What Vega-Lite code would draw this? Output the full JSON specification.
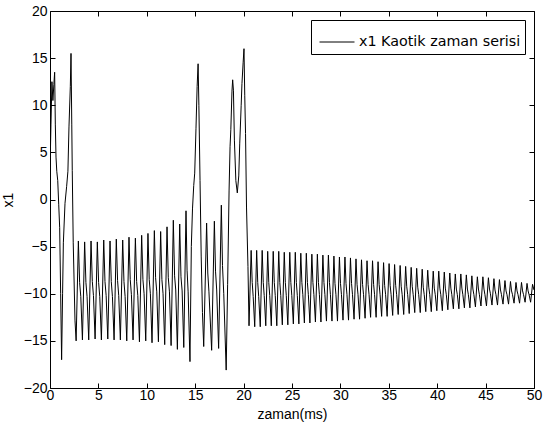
{
"$schema": "https://vega.github.io/schema/vega-lite/v6.json",
"width": 484, "height": 377,
"autosize": {"type": "none"},
"padding": {"left": 50, "top": 11, "right": 9, "bottom": 43},
"background": "white",
"config": {
 "view": {"stroke": "#000", "strokeWidth": 1},
 "font": "Liberation Sans",
 "axis": {"labelFont": "Liberation Sans", "labelFontSize": 14, "labelColor": "#000", "titleFont": "Liberation Sans", "titleFontSize": 14, "titleFontWeight": "normal", "titleColor": "#000", "domain": false, "grid": false, "tickColor": "#000", "tickSize": -5, "tickWidth": 1},
 "legend": {"orient": "none", "legendX": 261, "legendY": 9, "strokeColor": "#000", "fillColor": "white", "padding": 4, "symbolType": "stroke", "symbolSize": 1225, "symbolStrokeWidth": 1, "symbolOffset": 4, "labelOffset": 4, "labelFont": "DejaVu Sans", "labelFontSize": 14.3, "labelColor": "#000", "labelLimit": 400, "title": null}
},
"data": {"values": [
{"t":0,"x":3.0},{"t":0.1,"x":8},{"t":0.2,"x":12.5},{"t":0.3,"x":10.5},{"t":0.4,"x":12.2},{"t":0.48,"x":13.5},{"t":0.55,"x":8},{"t":0.62,"x":4.5},{"t":0.7,"x":3},{"t":0.8,"x":2},{"t":0.9,"x":-0.5},{"t":1.0,"x":-3},{"t":1.1,"x":-10},{"t":1.2,"x":-17.0},{"t":1.3,"x":-10},{"t":1.38,"x":-4.6},{"t":1.55,"x":-0.4},{"t":1.72,"x":1.4},{"t":1.85,"x":3},{"t":1.96,"x":7.7},{"t":2.1,"x":12},{"t":2.17,"x":15.5},{"t":2.25,"x":8},{"t":2.3,"x":3.1},{"t":2.4,"x":-4.6},{"t":2.58,"x":-12.8},{"t":2.7,"x":-15.0},
{"t":2.93,"x":-4.4},{"t":3.06,"x":-8.8},{"t":3.18,"x":-10.3},{"t":3.35,"x":-14.9},
{"t":3.58,"x":-4.5},{"t":3.71,"x":-8.8},{"t":3.83,"x":-10.3},{"t":4.00,"x":-14.9},
{"t":4.24,"x":-4.4},{"t":4.37,"x":-8.7},{"t":4.49,"x":-10.2},{"t":4.66,"x":-14.8},
{"t":4.89,"x":-4.5},{"t":5.02,"x":-8.8},{"t":5.14,"x":-10.3},{"t":5.31,"x":-14.9},
{"t":5.55,"x":-4.3},{"t":5.68,"x":-8.7},{"t":5.80,"x":-10.2},{"t":5.97,"x":-14.8},
{"t":6.20,"x":-4.4},{"t":6.33,"x":-8.7},{"t":6.45,"x":-10.3},{"t":6.62,"x":-14.9},
{"t":6.85,"x":-4.2},{"t":6.98,"x":-8.6},{"t":7.10,"x":-10.2},{"t":7.27,"x":-14.9},
{"t":7.51,"x":-4.3},{"t":7.64,"x":-8.7},{"t":7.76,"x":-10.3},{"t":7.93,"x":-15.0},
{"t":8.16,"x":-4.0},{"t":8.29,"x":-8.5},{"t":8.41,"x":-10.1},{"t":8.58,"x":-14.9},
{"t":8.82,"x":-4.1},{"t":8.95,"x":-8.7},{"t":9.07,"x":-10.2},{"t":9.24,"x":-15.1},
{"t":9.47,"x":-3.8},{"t":9.60,"x":-8.5},{"t":9.72,"x":-10.0},{"t":9.89,"x":-15.0},
{"t":10.12,"x":-3.6},{"t":10.25,"x":-8.5},{"t":10.37,"x":-10.0},{"t":10.54,"x":-15.2},
{"t":10.78,"x":-3.3},{"t":10.91,"x":-8.3},{"t":11.03,"x":-9.8},{"t":11.20,"x":-15.1},
{"t":11.43,"x":-3.4},{"t":11.56,"x":-8.5},{"t":11.68,"x":-10.0},{"t":11.85,"x":-15.4},
{"t":12.09,"x":-2.9},{"t":12.22,"x":-8.3},{"t":12.34,"x":-9.8},{"t":12.51,"x":-15.5},
{"t":12.74,"x":-2.2},{"t":12.87,"x":-8.1},{"t":12.99,"x":-9.6},{"t":13.16,"x":-15.9},
{"t":13.40,"x":-2.6},{"t":13.53,"x":-8.2},{"t":13.65,"x":-9.7},{"t":13.82,"x":-15.7},
{"t":14.05,"x":-1.2},{"t":14.16,"x":-7.5},{"t":14.27,"x":-9.8},{"t":14.46,"x":-17.2},
{"t":14.6,"x":-5.0},{"t":14.72,"x":-1.0},{"t":14.85,"x":1.5},{"t":14.95,"x":2.8},{"t":15.08,"x":7.5},{"t":15.2,"x":12},{"t":15.3,"x":14.4},{"t":15.38,"x":10},{"t":15.5,"x":2},{"t":15.62,"x":-6},{"t":15.75,"x":-12},{"t":15.88,"x":-15.6},
{"t":16.18,"x":-2.5},{"t":16.3,"x":-7.8},{"t":16.42,"x":-9.8},{"t":16.7,"x":-16.0},
{"t":16.98,"x":-2.3},{"t":17.1,"x":-7.6},{"t":17.22,"x":-9.6},{"t":17.42,"x":-15.8},
{"t":17.7,"x":-0.6},{"t":17.82,"x":-7},{"t":17.95,"x":-10},{"t":18.2,"x":-18.1},
{"t":18.35,"x":-9},{"t":18.5,"x":1},{"t":18.6,"x":5.6},{"t":18.68,"x":7.4},{"t":18.8,"x":11.5},{"t":18.87,"x":12.7},{"t":18.95,"x":11.6},{"t":19.05,"x":6.3},{"t":19.2,"x":2},{"t":19.35,"x":0.7},{"t":19.5,"x":2.5},{"t":19.6,"x":5.9},{"t":19.75,"x":10},{"t":19.83,"x":12.3},{"t":19.95,"x":14.5},{"t":20.04,"x":16.0},{"t":20.12,"x":11},{"t":20.2,"x":7.0},{"t":20.3,"x":-0.8},{"t":20.45,"x":-7.1},{"t":20.56,"x":-13.4},
{"t":20.78,"x":-5.4},{"t":20.89,"x":-8.8},{"t":20.99,"x":-10.3},{"t":21.15,"x":-13.5},
{"t":21.35,"x":-5.4},{"t":21.46,"x":-8.8},{"t":21.56,"x":-10.3},{"t":21.72,"x":-13.5},
{"t":21.92,"x":-5.4},{"t":22.03,"x":-8.8},{"t":22.13,"x":-10.2},{"t":22.29,"x":-13.4},
{"t":22.49,"x":-5.5},{"t":22.60,"x":-8.8},{"t":22.70,"x":-10.2},{"t":22.86,"x":-13.4},
{"t":23.06,"x":-5.5},{"t":23.17,"x":-8.8},{"t":23.27,"x":-10.2},{"t":23.43,"x":-13.4},
{"t":23.63,"x":-5.5},{"t":23.74,"x":-8.8},{"t":23.84,"x":-10.2},{"t":24.00,"x":-13.3},
{"t":24.20,"x":-5.6},{"t":24.31,"x":-8.8},{"t":24.41,"x":-10.2},{"t":24.57,"x":-13.3},
{"t":24.77,"x":-5.6},{"t":24.88,"x":-8.8},{"t":24.98,"x":-10.2},{"t":25.14,"x":-13.2},
{"t":25.34,"x":-5.6},{"t":25.45,"x":-8.8},{"t":25.55,"x":-10.2},{"t":25.71,"x":-13.2},
{"t":25.91,"x":-5.7},{"t":26.02,"x":-8.8},{"t":26.12,"x":-10.1},{"t":26.28,"x":-13.1},
{"t":26.48,"x":-5.7},{"t":26.59,"x":-8.8},{"t":26.69,"x":-10.1},{"t":26.85,"x":-13.1},
{"t":27.05,"x":-5.8},{"t":27.16,"x":-8.8},{"t":27.26,"x":-10.1},{"t":27.42,"x":-13.0},
{"t":27.62,"x":-5.8},{"t":27.73,"x":-8.8},{"t":27.83,"x":-10.1},{"t":27.99,"x":-13.0},
{"t":28.19,"x":-5.9},{"t":28.30,"x":-8.8},{"t":28.40,"x":-10.1},{"t":28.56,"x":-12.9},
{"t":28.76,"x":-5.9},{"t":28.87,"x":-8.8},{"t":28.97,"x":-10.1},{"t":29.13,"x":-12.9},
{"t":29.33,"x":-6.0},{"t":29.44,"x":-8.9},{"t":29.54,"x":-10.1},{"t":29.70,"x":-12.9},
{"t":29.90,"x":-6.1},{"t":30.01,"x":-8.9},{"t":30.11,"x":-10.1},{"t":30.27,"x":-12.8},
{"t":30.47,"x":-6.1},{"t":30.58,"x":-8.9},{"t":30.68,"x":-10.1},{"t":30.84,"x":-12.8},
{"t":31.04,"x":-6.2},{"t":31.15,"x":-8.9},{"t":31.25,"x":-10.1},{"t":31.41,"x":-12.7},
{"t":31.61,"x":-6.3},{"t":31.72,"x":-9.0},{"t":31.82,"x":-10.1},{"t":31.98,"x":-12.7},
{"t":32.18,"x":-6.4},{"t":32.29,"x":-9.0},{"t":32.39,"x":-10.1},{"t":32.55,"x":-12.6},
{"t":32.75,"x":-6.5},{"t":32.86,"x":-9.0},{"t":32.96,"x":-10.1},{"t":33.12,"x":-12.5},
{"t":33.32,"x":-6.5},{"t":33.43,"x":-9.0},{"t":33.53,"x":-10.1},{"t":33.69,"x":-12.5},
{"t":33.89,"x":-6.6},{"t":34.00,"x":-9.0},{"t":34.10,"x":-10.1},{"t":34.26,"x":-12.4},
{"t":34.46,"x":-6.7},{"t":34.57,"x":-9.1},{"t":34.67,"x":-10.1},{"t":34.83,"x":-12.4},
{"t":35.03,"x":-6.8},{"t":35.14,"x":-9.1},{"t":35.24,"x":-10.1},{"t":35.40,"x":-12.3},
{"t":35.60,"x":-6.9},{"t":35.71,"x":-9.1},{"t":35.81,"x":-10.1},{"t":35.97,"x":-12.2},
{"t":36.17,"x":-7.0},{"t":36.28,"x":-9.2},{"t":36.38,"x":-10.1},{"t":36.54,"x":-12.2},
{"t":36.74,"x":-7.1},{"t":36.85,"x":-9.2},{"t":36.95,"x":-10.1},{"t":37.11,"x":-12.1},
{"t":37.31,"x":-7.2},{"t":37.42,"x":-9.2},{"t":37.52,"x":-10.1},{"t":37.68,"x":-12.0},
{"t":37.88,"x":-7.3},{"t":37.99,"x":-9.3},{"t":38.09,"x":-10.1},{"t":38.25,"x":-12.0},
{"t":38.45,"x":-7.4},{"t":38.56,"x":-9.3},{"t":38.66,"x":-10.1},{"t":38.82,"x":-11.9},
{"t":39.02,"x":-7.5},{"t":39.13,"x":-9.3},{"t":39.23,"x":-10.1},{"t":39.39,"x":-11.9},
{"t":39.59,"x":-7.6},{"t":39.70,"x":-9.4},{"t":39.80,"x":-10.1},{"t":39.96,"x":-11.8},
{"t":40.16,"x":-7.6},{"t":40.27,"x":-9.4},{"t":40.37,"x":-10.1},{"t":40.53,"x":-11.8},
{"t":40.73,"x":-7.7},{"t":40.84,"x":-9.4},{"t":40.94,"x":-10.1},{"t":41.10,"x":-11.7},
{"t":41.30,"x":-7.8},{"t":41.41,"x":-9.4},{"t":41.51,"x":-10.1},{"t":41.67,"x":-11.6},
{"t":41.87,"x":-7.9},{"t":41.98,"x":-9.5},{"t":42.08,"x":-10.1},{"t":42.24,"x":-11.6},
{"t":42.44,"x":-7.9},{"t":42.55,"x":-9.4},{"t":42.65,"x":-10.1},{"t":42.81,"x":-11.5},
{"t":43.01,"x":-8.0},{"t":43.12,"x":-9.5},{"t":43.22,"x":-10.1},{"t":43.38,"x":-11.5},
{"t":43.58,"x":-8.1},{"t":43.69,"x":-9.5},{"t":43.79,"x":-10.1},{"t":43.95,"x":-11.4},
{"t":44.15,"x":-8.2},{"t":44.26,"x":-9.5},{"t":44.36,"x":-10.1},{"t":44.52,"x":-11.3},
{"t":44.72,"x":-8.2},{"t":44.83,"x":-9.5},{"t":44.93,"x":-10.1},{"t":45.09,"x":-11.3},
{"t":45.29,"x":-8.3},{"t":45.40,"x":-9.5},{"t":45.50,"x":-10.0},{"t":45.66,"x":-11.2},
{"t":45.86,"x":-8.4},{"t":45.97,"x":-9.6},{"t":46.07,"x":-10.1},{"t":46.23,"x":-11.2},
{"t":46.43,"x":-8.5},{"t":46.54,"x":-9.6},{"t":46.64,"x":-10.1},{"t":46.80,"x":-11.1},
{"t":47.00,"x":-8.6},{"t":47.11,"x":-9.7},{"t":47.21,"x":-10.1},{"t":47.37,"x":-11.1},
{"t":47.57,"x":-8.7},{"t":47.68,"x":-9.7},{"t":47.78,"x":-10.1},{"t":47.94,"x":-11.0},
{"t":48.14,"x":-8.8},{"t":48.25,"x":-9.7},{"t":48.35,"x":-10.1},{"t":48.51,"x":-11.0},
{"t":48.71,"x":-8.8},{"t":48.82,"x":-9.7},{"t":48.92,"x":-10.1},{"t":49.08,"x":-10.9},
{"t":49.28,"x":-8.9},{"t":49.39,"x":-9.7},{"t":49.49,"x":-10.1},{"t":49.65,"x":-10.9},
{"t":49.85,"x":-9.0},{"t":50.0,"x":-9.6}
]},
"layer": [
 {"mark": {"type": "line", "strokeWidth": 1, "clip": true},
  "encoding": {
   "x": {"field": "t", "type": "quantitative", "scale": {"domain": [0, 50], "nice": false, "zero": false},
         "axis": {"orient": "bottom", "title": "zaman(ms)", "values": [0,5,10,15,20,25,30,35,40,45,50], "labelPadding": 5, "titlePadding": 5, "labelFlush": false}},
   "y": {"field": "x", "type": "quantitative", "scale": {"domain": [-20, 20], "nice": false, "zero": false},
         "axis": {"orient": "left", "title": "x1", "values": [-20,-15,-10,-5,0,5,10,15,20], "labelPadding": 8, "titlePadding": 8, "labelFlush": false}},
   "color": {"datum": "x1 Kaotik zaman serisi", "type": "nominal", "scale": {"range": ["#000000"]}}
  }},
 {"mark": {"type": "point", "opacity": 0},
  "encoding": {
   "x": {"field": "t", "type": "quantitative", "axis": {"orient": "top", "title": null, "labels": false, "values": [0,5,10,15,20,25,30,35,40,45,50]}},
   "y": {"field": "x", "type": "quantitative", "axis": {"orient": "right", "title": null, "labels": false, "values": [-20,-15,-10,-5,0,5,10,15,20]}}
  }}
],
"resolve": {"axis": {"x": "independent", "y": "independent"}}
}
